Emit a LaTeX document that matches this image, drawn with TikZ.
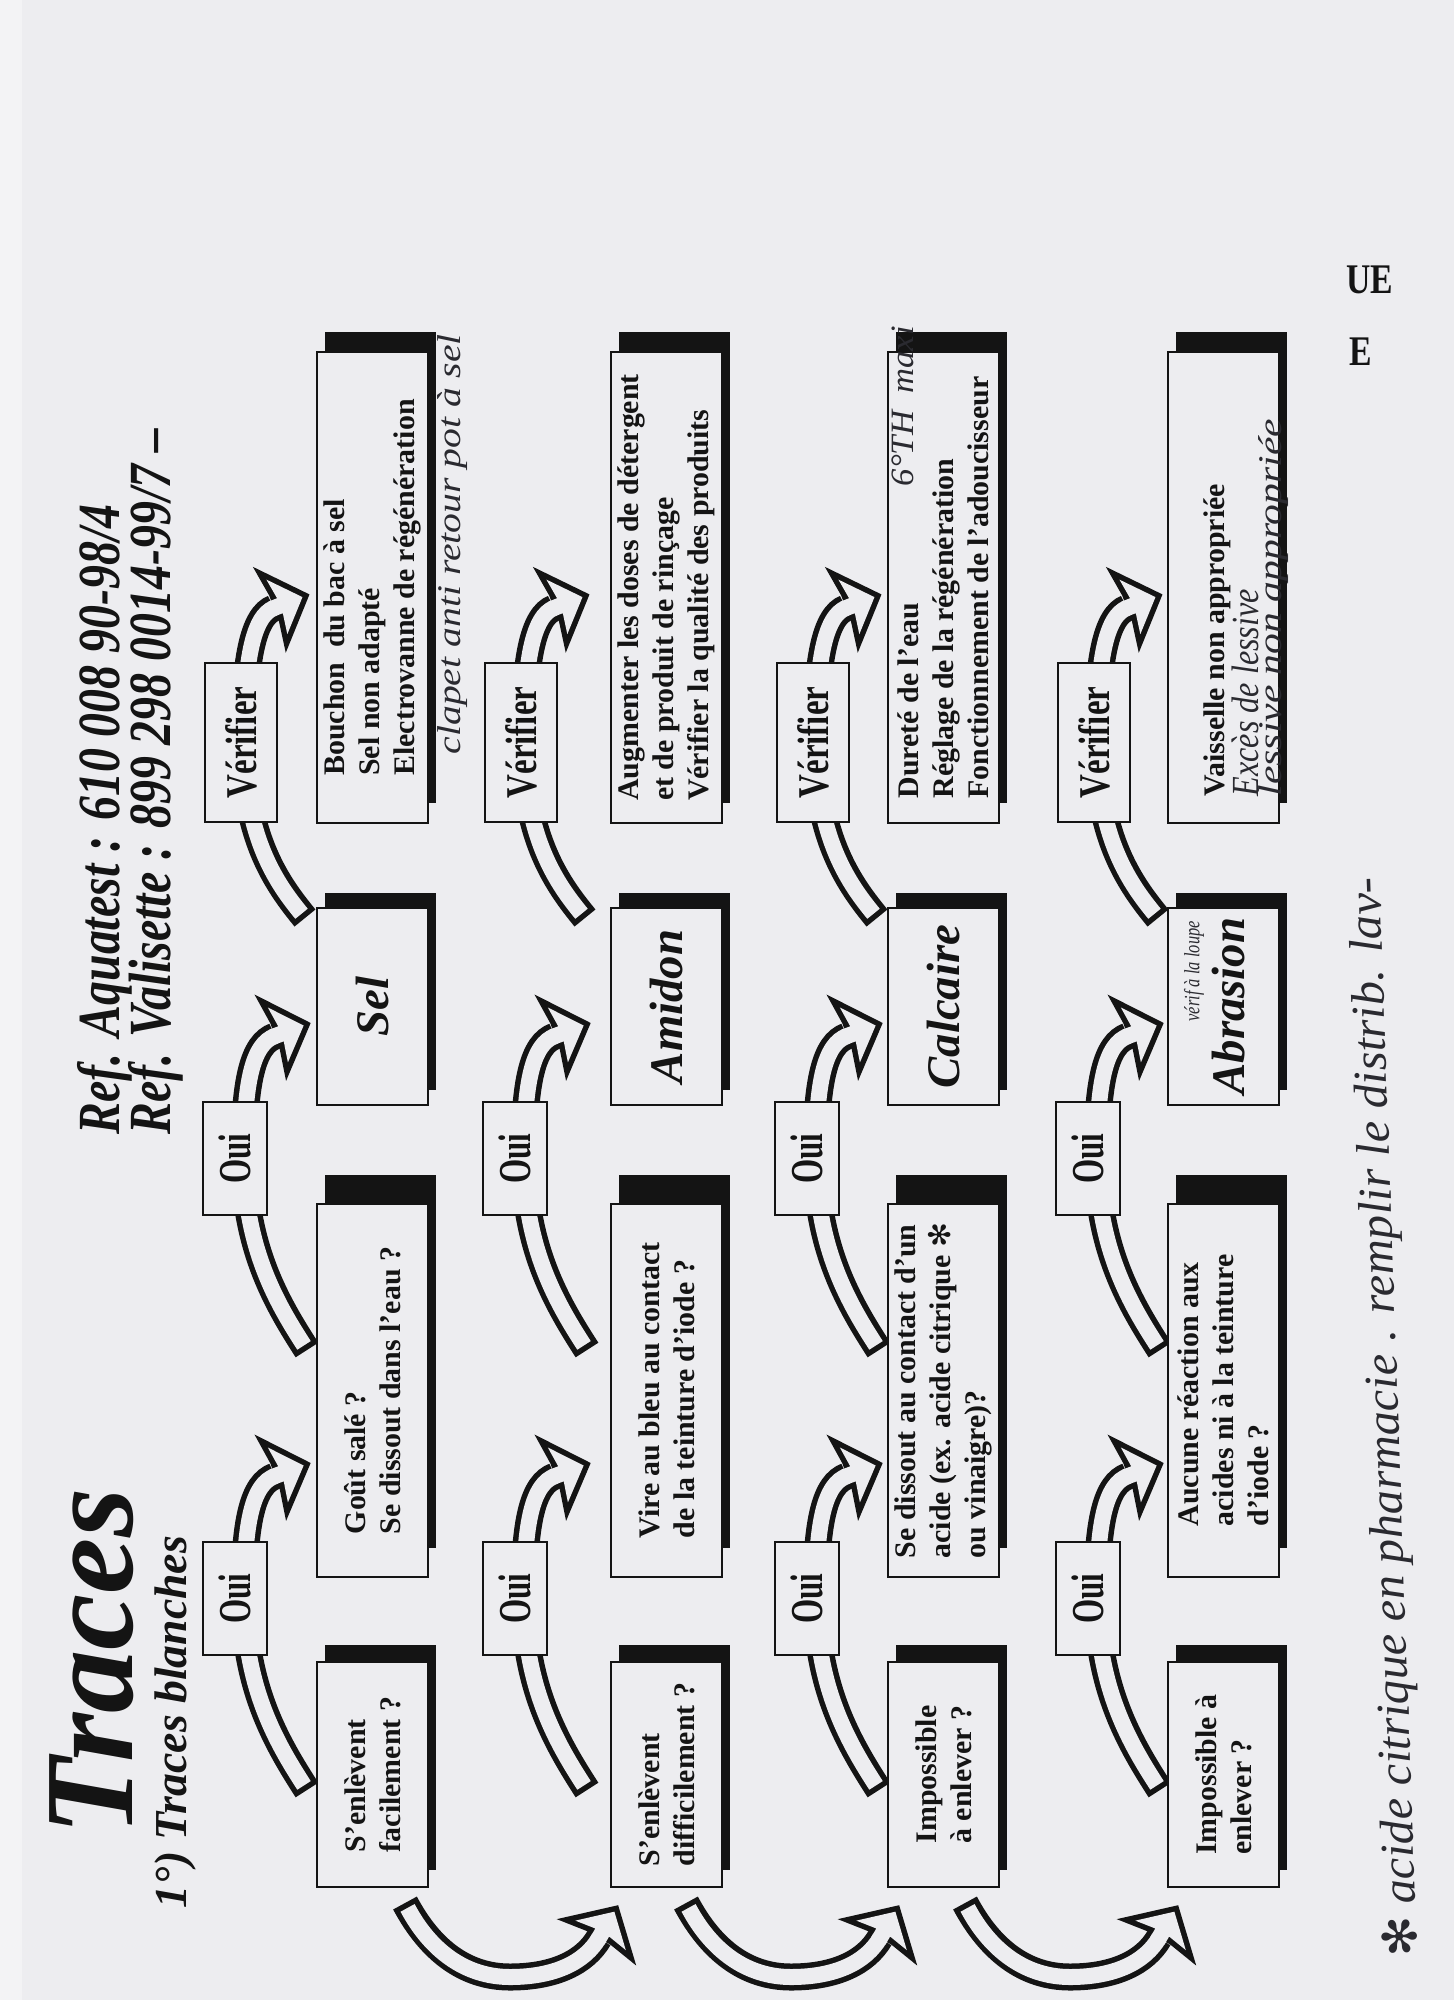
\documentclass[tikz,border=0pt]{standalone}
\usepackage{fontspec}
\usepackage{graphicx}
\setmainfont{Liberation Serif}
\newfontfamily\symf{DejaVu Sans}
\usetikzlibrary{decorations.markings}
\definecolor{paper}{HTML}{EDEDF0}
\definecolor{edge}{HTML}{F3F3F5}
\definecolor{ink}{HTML}{141414}
\definecolor{pen}{HTML}{2A2A30}
\newcommand\catf{\fontsize{13.3}{15}\selectfont\bfseries\itshape}
\newcommand\fatarrow[1]{%
  \draw[fa outer] #1;
  \draw[fa inner] #1;
}
\newcommand\mkbox[7]{%
  \fill[ink] ({#2+8},{#3-#6}) rectangle ({#4+8},{#5-#6});
  \node[qbox, minimum width={(#5-#3)*0.01cm}, minimum height={(#4-#2)*0.01cm}] (#1) at ({(#2+#4)/2},{(#3+#5)/2}) {#7};
}
\newcommand\hw[7][90]{%
  \node[rotate=#1, anchor=west, inner sep=0pt, text=pen] (#2) at (#3,#4) {\resizebox*{#5}{#6}{\itshape #7}};
}
\begin{document}
\begin{tikzpicture}[x=0.01cm,y=-0.01cm,
  fa outer/.style={draw=ink, line width=2.7mm, line cap=butt, postaction={decorate},
    decoration={markings, mark=at position 0.9999 with {\fill[ink, shorten <=0pt] (0,1.35mm) -- (-0.5mm,4.6mm) -- (3.8mm,0) -- (-0.5mm,-4.6mm) -- (0,-1.35mm) -- cycle;}}},
  fa inner/.style={draw=paper, line width=1.6mm, line cap=butt, shorten <=0.55mm, postaction={decorate},
    decoration={markings, mark=at position 0.9999 with {\fill[paper, shorten <=0pt] (-0.3mm,-0.8mm) -- (0.64mm,-0.8mm) -- (0.31mm,-2.92mm) -- (3.05mm,0) -- (0.31mm,2.92mm) -- (0.64mm,0.8mm) -- (-0.3mm,0.8mm) -- cycle;}}},
  qbox/.style={draw=ink, line width=0.7pt, fill=paper, rotate=90, inner sep=0pt, align=left, text=ink,
    font=\fontsize{8.5}{10}\selectfont\bfseries},
  obox/.style={draw=ink, line width=0.8pt, fill=paper, rotate=90, inner sep=0pt, text=ink,
    font=\fontsize{13}{13}\selectfont\bfseries},
  ttl/.style={rotate=90, inner sep=0pt, text=ink, font=\bfseries\itshape}
]
\useasboundingbox (0,0) rectangle (1454,2000);
\fill[paper] (0,0) rectangle (1454,2000);
\fill[edge] (0,0) rectangle (22,2000);

% ---------- fat arrows ----------
\foreach \OL in {203,483,775,1056}{
  \fatarrow{(\OL+104,1790) .. controls (\OL+75,1745) and (\OL+42,1690) .. (\OL+41,1600) .. controls (\OL+41,1520) and (\OL+50,1484) .. (\OL+72,1476)}
  \fatarrow{(\OL+104,1350) .. controls (\OL+75,1305) and (\OL+42,1250) .. (\OL+41,1160) .. controls (\OL+41,1080) and (\OL+50,1044) .. (\OL+72,1036)}
  \fatarrow{(\OL+102,918) .. controls (\OL+75,885) and (\OL+42,840) .. (\OL+41,745) .. controls (\OL+41,660) and (\OL+50,616) .. (\OL+71,608)}
}
\foreach \X in {405,686,965}{
  \fatarrow{(\X,1903) .. controls (\X+25,1950) and (\X+60,1977) .. (\X+105,1977) .. controls (\X+150,1977) and (\X+180,1962) .. (\X+194,1938)}
}

% ---------- Oui / Verifier ----------
\foreach \OL in {203,483,775,1056}{
  \node[obox, minimum width=1.13cm, minimum height=0.64cm] (oa\OL) at (\OL+32,1598.5) {\scalebox{0.68}[1]{Oui}};
  \node[obox, minimum width=1.13cm, minimum height=0.64cm] (ob\OL) at (\OL+32,1158.5) {\scalebox{0.68}[1]{Oui}};
  \node[obox, minimum width=1.59cm, minimum height=0.72cm] (v\OL) at (\OL+38,742.5) {\scalebox{0.75}[1]{\fontsize{12.5}{12.5}\selectfont V\'erifier}};
}

% ---------- row 1 ----------
\mkbox{b11}{317}{1662}{428}{1887}{17}{S'enlèvent\\facilement ?}
\mkbox{b12}{317}{1204}{428}{1577}{29}{Goût salé ?\\Se dissout dans l'eau ?}
\mkbox{c1}{317}{908}{428}{1105}{15}{\catf Sel}
\mkbox{r1}{317}{352}{428}{823}{20}{Bouchon\ \ du bac à sel\\Sel non adapté\\Electrovanne de régénération}
% ---------- row 2 ----------
\mkbox{b21}{611}{1662}{722}{1887}{17}{S'enlèvent\\difficilement ?}
\mkbox{b22}{611}{1204}{722}{1577}{29}{Vire au bleu au contact\\de la teinture d'iode ?}
\mkbox{c2}{611}{908}{722}{1105}{15}{\catf Amidon}
\mkbox{r2}{611}{352}{722}{823}{20}{Augmenter les doses de détergent\\et de produit de rinçage\\Vérifier la qualité des produits}
% ---------- row 3 ----------
\mkbox{b31}{888}{1662}{999}{1887}{17}{Impossible\\à enlever ?}
\mkbox{b32}{888}{1204}{999}{1577}{29}{Se dissout au contact d'un\\acide (ex. acide citrique {\mdseries\symf ✻}\\ou vinaigre)?}
\mkbox{c3}{888}{908}{999}{1105}{15}{\catf Calcaire}
\mkbox{r3}{888}{352}{999}{823}{20}{Dureté de l'eau\\Réglage de la régénération\\Fonctionnement de l'adoucisseur}
% ---------- row 4 ----------
\mkbox{b41}{1168}{1662}{1279}{1887}{17}{Impossible à\\enlever ?}
\mkbox{b42}{1168}{1204}{1279}{1577}{29}{Aucune réaction aux\\acides ni à la teinture\\d'iode ?}
\mkbox{c4}{1168}{908}{1279}{1105}{15}{\hspace*{0pt}}
\mkbox{r4}{1168}{352}{1279}{823}{20}{\hspace*{0pt}}
\node[ttl, font=\catf] (c4t) at (1229,1006) {Abrasion};
\node[rotate=90, anchor=west, inner sep=0pt, text=ink, font=\fontsize{8.5}{10}\selectfont\bfseries] (r4t) at (1217,797) {Vaisselle non appropriée};

% ---------- titles ----------
\node[ttl, font=\fontsize{36}{36}\selectfont\bfseries\itshape] (title) at (92,1662) {Traces};
\node[ttl, font=\fontsize{13}{13}\selectfont\bfseries\itshape] (sub) at (176,1722) {1°) Traces blanches};
\node[ttl, anchor=west, font=\fontsize{17}{17}\selectfont\bfseries\itshape] (ref1) at (105,1135) {\scalebox{0.8}[1]{Ref. Aquatest : 610 008 90-98/4}};
\node[ttl, anchor=west, font=\fontsize{17}{17}\selectfont\bfseries\itshape] (ref2) at (156,1135) {\scalebox{0.8}[1]{Ref. Valisette : 899 298 0014-99/7 –}};
\node[inner sep=0pt, text=ink, font=\fontsize{12}{12}\selectfont\bfseries] (ue) at (1370,280) {\scalebox{0.8}[1]{UE}};
\node[inner sep=0pt, text=ink, font=\fontsize{12}{12}\selectfont\bfseries] (e) at (1361,352) {\scalebox{0.8}[1]{E}};

% ---------- handwriting ----------
\hw{hw1}{453}{755}{4.2cm}{0.3cm}{clapet anti retour pot à sel}
\hw{hw2}{903}{487}{1.6cm}{0.22cm}{6°TH\ \ maxi}
\hw{hw3}{1194}{1022}{1.0cm}{0.2cm}{vérif à la loupe}
\hw{hw4}{1245}{797}{2.07cm}{0.27cm}{Excès de lessive}
\hw{hw5}{1274}{797}{3.77cm}{0.3cm}{lessive non appropriée}
\hw[92]{note}{1405}{1958}{10.8cm}{0.45cm}{{\symf ✻} acide citrique en pharmacie . remplir le distrib. lav-}
\end{tikzpicture}
\end{document}
